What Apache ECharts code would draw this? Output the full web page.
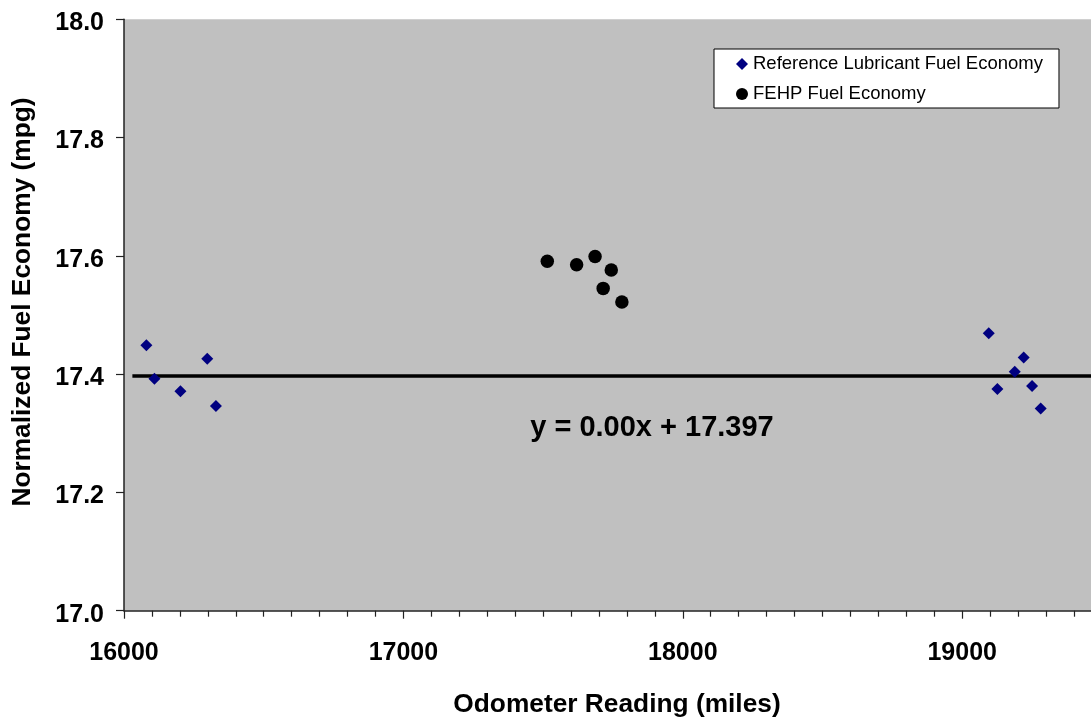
<!DOCTYPE html>
<html>
<head>
<meta charset="utf-8">
<script src="https://cdn.jsdelivr.net/npm/echarts@6/dist/echarts.min.js"></script>
<style>
html, body { margin: 0; padding: 0; background: #fff; overflow: hidden; }
#wrap { position: relative; width: 1091px; height: 719px; overflow: hidden; }
#chart { position: absolute; left: 0; top: 0; width: 1250px; height: 719px; }
</style>
</head>
<body>
<div id="wrap"><div id="chart"></div></div>
<script>
// Reference lubricant fuel economy (odometer miles, mpg)
const refMiles = [16080, 16109, 16202, 16298, 16329, 19095, 19126, 19188, 19220, 19250, 19281];
const refMpg   = [17.449, 17.392, 17.371, 17.426, 17.346, 17.469, 17.375, 17.404, 17.428, 17.380, 17.342];
// FEHP fuel economy
const fehpMiles = [17515, 17620, 17686, 17715, 17744, 17782];
const fehpMpg   = [17.591, 17.585, 17.599, 17.545, 17.576, 17.522];
// Linear trendline of the reference series
const trendSlope = 0.0;
const trendIntercept = 17.397;
const trendStartMiles = 16030;
const trendEndMiles = 20000;
// Axes
const xTicks = [16000, 17000, 18000, 19000];
const yTicks = [17.0, 17.2, 17.4, 17.6, 17.8, 18.0];
const xTitle = 'Odometer Reading (miles)';
const yTitle = 'Normalized Fuel Economy (mpg)';

const seriesNames = ['Reference Lubricant Fuel Economy', 'FEHP Fuel Economy'];

const refData = refMiles.map((m, i) => [m, refMpg[i]]);
const fehpData = fehpMiles.map((m, i) => [m, fehpMpg[i]]);
const trendData = [trendStartMiles, trendEndMiles].map(m => [m, trendSlope * m + trendIntercept]);
const eqText = 'y = ' + trendSlope.toFixed(2) + 'x + ' + trendIntercept.toFixed(3);

const FONT = 'Liberation Sans, Arial, sans-serif';

const chart = echarts.init(document.getElementById('chart'), null, { renderer: 'canvas' });
chart.setOption({
  animation: false,
  backgroundColor: '#ffffff',
  grid: {
    left: 124, top: 19.3, right: 8.4, bottom: 108.3,
    show: true, backgroundColor: '#c0c0c0', borderWidth: 0
  },
  xAxis: {
    type: 'value',
    min: xTicks[0], max: 20000, interval: 1000,
    axisLine: { show: true, onZero: false, lineStyle: { color: '#222', width: 1.5 } },
    axisTick: { show: true, inside: false, length: 8, lineStyle: { color: '#222', width: 1.2 } },
    minorTick: { show: true, splitNumber: 10, length: 6, lineStyle: { color: '#222', width: 1.2 } },
    axisLabel: {
      margin: 30, fontFamily: FONT, fontWeight: 'bold', fontSize: 25, color: '#000',
      showMaxLabel: false,
      formatter: v => (xTicks.indexOf(v) >= 0 ? String(v) : '')
    },
    splitLine: { show: false }
  },
  yAxis: {
    type: 'value',
    min: yTicks[0], max: yTicks[yTicks.length - 1], interval: 0.2,
    axisLine: { show: true, lineStyle: { color: '#222', width: 1.5 } },
    axisTick: { show: true, inside: false, length: 8, lineStyle: { color: '#222', width: 1.2 } },
    axisLabel: {
      margin: 20, fontFamily: FONT, fontWeight: 'bold', fontSize: 25, color: '#000',
      formatter: v => '{s|' + v.toFixed(1) + '}',
      rich: {
        s: { fontFamily: FONT, fontWeight: 'bold', fontSize: 25, color: '#000', padding: [8, 0, 0, 0], lineHeight: 25 }
      }
    },
    splitLine: { show: false }
  },
  legend: {
    orient: 'vertical',
    left: 714, top: 49,
    backgroundColor: '#ffffff',
    borderColor: '#000', borderWidth: 1,
    padding: [5, 16, 4, 22],
    itemWidth: 12, itemHeight: 12, itemGap: 10,
    textStyle: { fontFamily: FONT, fontSize: 18.5, color: '#000', lineHeight: 20 },
    data: [
      { name: seriesNames[0], icon: 'diamond', itemStyle: { color: '#000080', opacity: 1 } },
      { name: seriesNames[1], icon: 'circle', itemStyle: { color: '#000', opacity: 1 } }
    ]
  },
  series: [
    {
      name: 'trend', type: 'line', data: trendData,
      symbol: 'none', silent: true, z: 3,
      lineStyle: { color: '#000', width: 3.5 }
    },
    {
      name: seriesNames[0], type: 'scatter', data: refData,
      symbol: 'diamond', symbolSize: 12, z: 4,
      itemStyle: { color: '#000080', opacity: 1 }
    },
    {
      name: seriesNames[1], type: 'scatter', data: fehpData,
      symbol: 'circle', symbolSize: 13.5, z: 4,
      itemStyle: { color: '#000', opacity: 1 }
    }
  ],
  graphic: [
    {
      type: 'text', x: 652, y: 428, z: 10,
      style: {
        text: eqText, fontFamily: FONT, fontWeight: 'bold', fontSize: 29, fill: '#000',
        align: 'center', verticalAlign: 'middle'
      }
    },
    {
      type: 'text', x: 617, y: 705, z: 10,
      style: {
        text: xTitle, fontFamily: FONT, fontWeight: 'bold', fontSize: 26.3, fill: '#000',
        align: 'center', verticalAlign: 'middle'
      }
    },
    {
      type: 'text', x: 22.5, y: 302, rotation: Math.PI / 2, z: 10,
      style: {
        text: yTitle, fontFamily: FONT, fontWeight: 'bold', fontSize: 26.3, fill: '#000',
        align: 'center', verticalAlign: 'middle'
      }
    }
  ]
});
</script>
</body>
</html>
